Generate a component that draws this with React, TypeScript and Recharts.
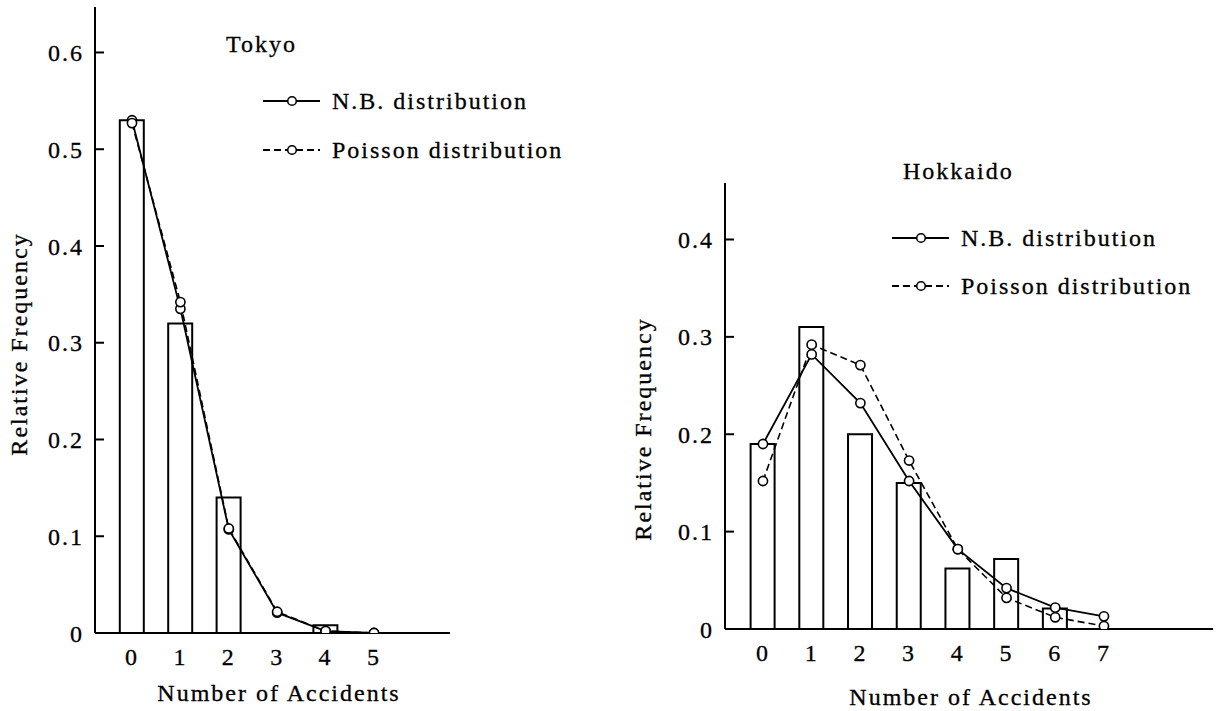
import { ComposedChart, Bar, Line, XAxis, YAxis, Legend } from 'recharts';

// Tokyo
const tokyoCounts = ['0', '1', '2', '3', '4', '5'];
const tokyoObserved = [0.53, 0.32, 0.14, null, 0.008, null];
const tokyoNB = [0.53, 0.335, 0.107, 0.021, 0.002, 0.0];
const tokyoPoisson = [0.527, 0.342, 0.108, 0.022, 0.002, 0.0];
const tokyoTicks = [0, 0.1, 0.2, 0.3, 0.4, 0.5, 0.6];

// Hokkaido
const hokkaidoCounts = ['0', '1', '2', '3', '4', '5', '6', '7'];
const hokkaidoObserved = [0.19, 0.31, 0.2, 0.15, 0.062, 0.072, 0.021, null];
const hokkaidoNB = [0.19, 0.282, 0.232, 0.152, 0.082, 0.042, 0.022, 0.013];
const hokkaidoPoisson = [0.152, 0.292, 0.271, 0.173, 0.082, 0.032, 0.012, 0.003];
const hokkaidoTicks = [0, 0.1, 0.2, 0.3, 0.4];

const legendItems = [
  { name: 'N.B. distribution', dash: undefined },
  { name: 'Poisson distribution', dash: '7 4' },
];

const FONT = '"Liberation Serif", "DejaVu Serif", serif';
const SIZE = 24;
const SPACING = '2px';

const fmt = (v: number) => (v === 0 ? '0' : v.toFixed(1));

function DistributionChart({ title, counts, observed, nb, poisson, ticks, yMax, left, width, margin, padding, lay }: any) {
  const data = counts.map((c: string, i: number) => ({
    count: c,
    observed: observed[i],
    nb: nb[i],
    poisson: poisson[i],
  }));

  const renderLegend = () => (
    <div style={{ position: 'relative', width, height: 711 }}>
      <div style={{ position: 'absolute', left: lay.titleX, top: lay.titleY - 15, lineHeight: '28px', whiteSpace: 'nowrap' }}>
        {title}
      </div>
      {legendItems.map((item, i) => (
        <div
          key={item.name}
          style={{
            position: 'absolute',
            left: lay.legendX,
            top: lay.legendY[i] - 14,
            height: 28,
            display: 'flex',
            alignItems: 'center',
            whiteSpace: 'nowrap',
          }}
        >
          <svg width={57} height={12} style={{ display: 'block' }}>
            <line x1={0} y1={6} x2={57} y2={6} stroke="#000" strokeWidth={1.8} strokeDasharray={item.dash} />
            <circle cx={29} cy={6} r={4.3} fill="#fff" stroke="#000" strokeWidth={1.6} />
          </svg>
          <span style={{ marginLeft: 12, lineHeight: '28px' }}>{item.name}</span>
        </div>
      ))}
    </div>
  );

  const dot = { r: 4.6, fill: '#fff', stroke: '#000', strokeWidth: 1.6, strokeDasharray: 'none' };
  const tickStyle = { fill: '#000', fontSize: SIZE, stroke: '#000', strokeWidth: 0.3 };

  return (
    <div style={{ position: 'absolute', left, top: 0 }}>
      <ComposedChart width={width} height={711} data={data} margin={margin}>
        <XAxis
          dataKey="count"
          height={30}
          padding={padding}
          interval={0}
          tickLine={false}
          tickMargin={9}
          axisLine={{ stroke: '#000', strokeWidth: 2 }}
          tick={tickStyle}
          label={{
            content: () => (
              <text
                x={lay.xLabel[0]}
                y={lay.xLabel[1]}
                textAnchor="middle"
                fill="#000"
                stroke="#000"
                strokeWidth={0.3}
                fontSize={SIZE}
                style={{ letterSpacing: SPACING }}
              >
                Number of Accidents
              </text>
            ),
          }}
        />
        <YAxis
          type="number"
          width={60}
          domain={[0, yMax]}
          allowDataOverflow
          ticks={ticks}
          tickFormatter={fmt}
          tickSize={-9}
          tickMargin={20}
          axisLine={{ stroke: '#000', strokeWidth: 2 }}
          tickLine={{ stroke: '#000', strokeWidth: 2 }}
          tick={tickStyle}
          label={{
            content: () => (
              <text
                x={lay.yLabel[0]}
                y={lay.yLabel[1]}
                transform={`rotate(-90, ${lay.yLabel[0]}, ${lay.yLabel[1]})`}
                textAnchor="middle"
                dominantBaseline="central"
                fill="#000"
                stroke="#000"
                strokeWidth={0.3}
                fontSize={SIZE}
                style={{ letterSpacing: SPACING }}
              >
                Relative Frequency
              </text>
            ),
          }}
        />
        <Legend
          layout="vertical"
          align="center"
          verticalAlign="middle"
          content={renderLegend}
          wrapperStyle={{ left: 0, top: 0, width, height: 711 }}
        />
        <Bar dataKey="observed" fill="#fff" stroke="#000" strokeWidth={2} barSize={24} isAnimationActive={false} />
        <Line
          dataKey="nb"
          name="N.B. distribution"
          type="linear"
          stroke="#000"
          strokeWidth={1.8}
          dot={dot}
          activeDot={false}
          isAnimationActive={false}
        />
        <Line
          dataKey="poisson"
          name="Poisson distribution"
          type="linear"
          stroke="#000"
          strokeWidth={1.6}
          strokeDasharray="7 4"
          dot={dot}
          activeDot={false}
          isAnimationActive={false}
        />
      </ComposedChart>
    </div>
  );
}

export default function App() {
  return (
    <div
      style={{
        position: 'absolute',
        left: 0,
        top: 0,
        width: 1216,
        height: 711,
        background: '#fff',
        fontFamily: FONT,
        fontSize: SIZE,
        letterSpacing: SPACING,
        color: '#000',
        WebkitTextStroke: '0.3px #000',
      }}
    >
      <DistributionChart
        title="Tokyo"
        counts={tokyoCounts}
        observed={tokyoObserved}
        nb={tokyoNB}
        poisson={tokyoPoisson}
        ticks={tokyoTicks}
        yMax={0.647}
        left={0}
        width={600}
        margin={{ top: 7, right: 150, bottom: 48, left: 35 }}
        padding={{ left: 12.8, right: 51.8 }}
        lay={{ titleX: 226, titleY: 45, legendX: 263, legendY: [101, 150], xLabel: [279, 701], yLabel: [19, 344] }}
      />
      <DistributionChart
        title="Hokkaido"
        counts={hokkaidoCounts}
        observed={hokkaidoObserved}
        nb={hokkaidoNB}
        poisson={hokkaidoPoisson}
        ticks={hokkaidoTicks}
        yMax={0.458}
        left={600}
        width={616}
        margin={{ top: 183, right: 3, bottom: 52, left: 65 }}
        padding={{ left: 13.6, right: 84.7 }}
        lay={{ titleX: 303, titleY: 171.5, legendX: 292, legendY: [238, 286], xLabel: [371, 705], yLabel: [43, 429] }}
      />
    </div>
  );
}
